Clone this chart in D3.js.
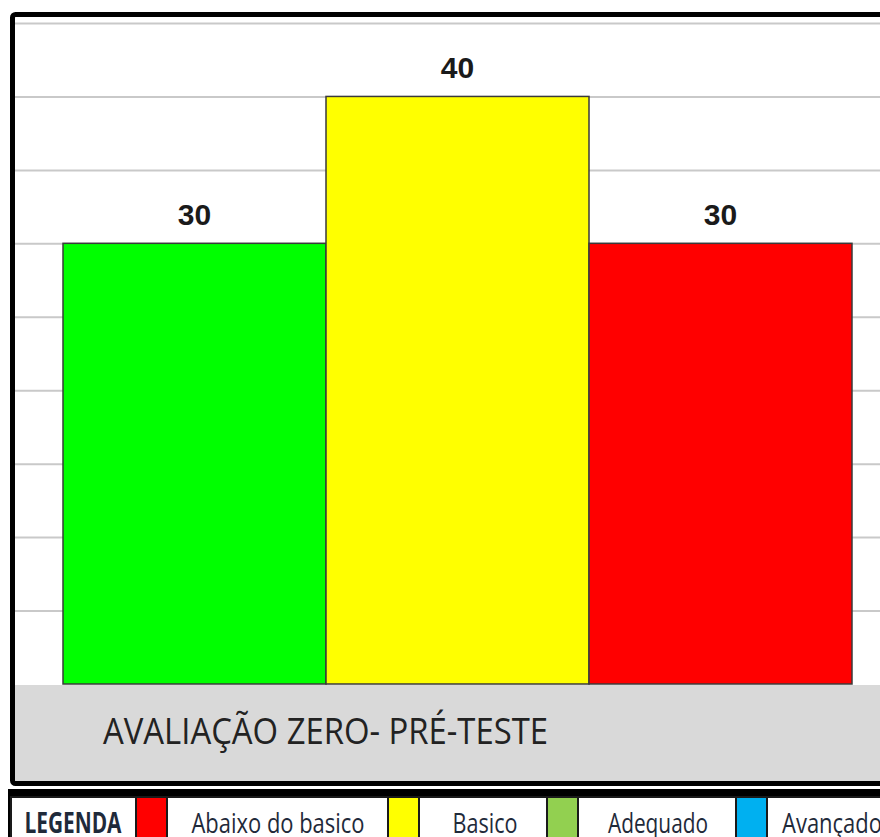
<!DOCTYPE html>
<html>
<head>
<meta charset="utf-8">
<script src="https://cdn.jsdelivr.net/npm/d3@7"></script>
<style>
  html, body { margin: 0; padding: 0; background: #ffffff; }
  svg { display: block; }
</style>
</head>
<body>
<script>
// Results of the zero evaluation (pre-test)
const categories = ["Adequado", "Basico", "Abaixo do basico"];
const values = [30, 40, 30];
const yTicks = [0, 5, 10, 15, 20, 25, 30, 35, 40, 45];
const chartTitle = "AVALIAÇÃO ZERO- PRÉ-TESTE";
const legendTitle = "LEGENDA";
const legendLabels = ["Abaixo  do basico", "Basico", "Adequado", "Avançado"];

// Styling
const barColors = ["#00ff00", "#ffff00", "#ff0000"];
const legendColors = ["#ff0000", "#ffff00", "#92d050", "#00b0f0"];

const W = 880, H = 837;
const svg = d3.select("body").append("svg")
  .attr("width", W).attr("height", H)
  .style("font-family", "'Open Sans', 'Noto Sans', sans-serif");

svg.append("rect").attr("width", W).attr("height", H).attr("fill", "#ffffff");

// Scales
const x = d3.scaleBand().domain(categories).range([63, 852]).paddingInner(0).paddingOuter(0);
const y = d3.scaleLinear().domain([0, 45]).range([684, 23]);

// Category strip below the plot
svg.append("rect")
  .attr("x", 15).attr("y", y(0) + 1)
  .attr("width", W).attr("height", 781 - (y(0) + 1))
  .attr("fill", "#d9d9d9");

// Horizontal gridlines via a d3 axis
const grid = svg.append("g")
  .attr("transform", "translate(15,0)")
  .call(d3.axisLeft(y).tickValues(yTicks.slice(1)).tickSize(-W).tickFormat(""));
grid.select(".domain").remove();
grid.selectAll("line").attr("stroke", "#c9c9c9").attr("stroke-width", 2);

// Bars
svg.append("g").selectAll("rect")
  .data(categories)
  .join("rect")
  .attr("x", d => x(d))
  .attr("y", (d, i) => y(values[i]))
  .attr("width", x.bandwidth())
  .attr("height", (d, i) => y(0) - y(values[i]))
  .attr("fill", (d, i) => barColors[i])
  .attr("stroke", "#3a3a3a")
  .attr("stroke-width", 1.5);

// Value labels
svg.append("g").selectAll("text")
  .data(categories)
  .join("text")
  .attr("x", d => x(d) + x.bandwidth() / 2)
  .attr("y", (d, i) => y(values[i]) - 18)
  .attr("text-anchor", "middle")
  .style("font-family", "'Liberation Sans', Arial, sans-serif")
  .attr("font-weight", "bold")
  .attr("font-size", 30)
  .attr("fill", "#1a1a1a")
  .text((d, i) => values[i]);

// Strip title
svg.append("text")
  .attr("x", 103).attr("y", 744)
  .attr("font-size", 36)
  .attr("fill", "#222222")
  .attr("textLength", 445)
  .attr("lengthAdjust", "spacingAndGlyphs")
  .text(chartTitle);

// Outer frame
svg.append("rect")
  .attr("x", 12.5).attr("y", 14.5)
  .attr("width", 920).attr("height", 769)
  .attr("rx", 3)
  .attr("fill", "none")
  .attr("stroke", "#000000")
  .attr("stroke-width", 5);

// Legend table
const lg = svg.append("g");
lg.append("rect").attr("x", 8).attr("y", 789).attr("width", 920).attr("height", 8).attr("fill", "#000000");
lg.append("rect").attr("x", 8).attr("y", 789).attr("width", 3).attr("height", 60).attr("fill", "#000000");

const cellTop = 797;
const cellEdges = [11, 136, 167, 388, 419, 547, 578, 736, 767, 930];
const textCenters = [73, 278, 485, 658, 832];
const textWidths = [97, 173, 65, 100, 100];

const cells = [];
cells.push({ kind: "text", label: legendTitle, bold: true, i: 0 });
legendLabels.forEach((lab, k) => {
  cells.push({ kind: "swatch", color: legendColors[k] });
  cells.push({ kind: "text", label: lab, bold: false, i: k + 1 });
});

lg.selectAll("rect.cell")
  .data(cells)
  .join("rect")
  .attr("class", "cell")
  .attr("x", (d, i) => cellEdges[i])
  .attr("y", cellTop)
  .attr("width", (d, i) => cellEdges[i + 1] - cellEdges[i])
  .attr("height", 60)
  .attr("fill", d => d.kind === "swatch" ? d.color : "#ffffff")
  .attr("stroke", "#1a1a1a")
  .attr("stroke-width", 2);

lg.selectAll("text")
  .data(cells.filter(d => d.kind === "text"))
  .join("text")
  .attr("x", d => textCenters[d.i])
  .attr("y", 833)
  .attr("text-anchor", "middle")
  .attr("font-size", 28)
  .attr("font-weight", d => d.bold ? "bold" : "normal")
  .attr("fill", "#1f2a3a")
  .attr("textLength", d => textWidths[d.i])
  .attr("lengthAdjust", "spacingAndGlyphs")
  .text(d => d.label);
</script>
</body>
</html>
